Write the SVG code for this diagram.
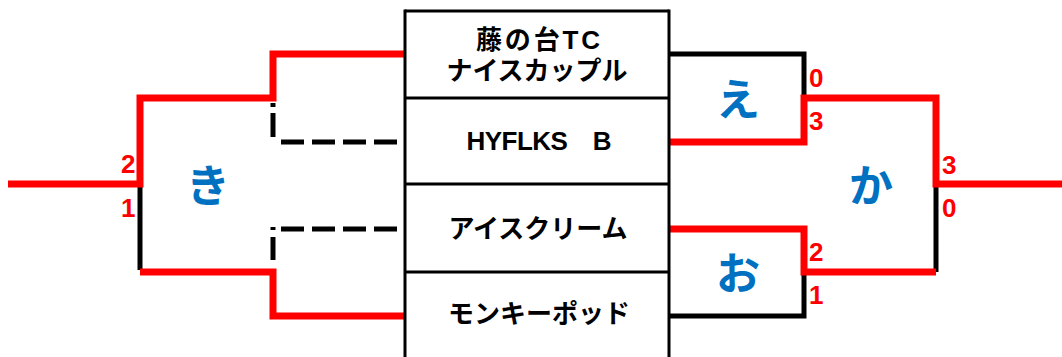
<svg xmlns="http://www.w3.org/2000/svg" width="1062" height="357" viewBox="0 0 1062 357">
<style>
.tbl{stroke:#000;stroke-width:3;fill:none}
.red{stroke:#ff0000;stroke-width:7;fill:none;stroke-linecap:butt;stroke-linejoin:miter}
.blk{stroke:#000;stroke-width:5;fill:none}
.dash{stroke:#000;stroke-width:5;fill:none}
.team{font-family:"Liberation Sans","Noto Sans CJK JP",sans-serif;font-weight:bold;font-size:26px;fill:#000;text-anchor:middle}
.match{font-family:"Noto Sans CJK JP",sans-serif;font-weight:bold;font-size:44px;fill:#0070C0;text-anchor:middle;dominant-baseline:central}
.score{font-family:"Liberation Sans",sans-serif;font-weight:bold;font-size:26px;fill:#ff0000}
</style>
<rect width="1062" height="357" fill="#fff"/>
<g id="connectors">
  <line class="blk" x1="140" y1="186" x2="140" y2="270"/>
  <line class="dash" x1="273" y1="103" x2="273" y2="107"/>
  <line class="dash" x1="273" y1="113" x2="273" y2="137"/>
  <line class="dash" x1="281" y1="142" x2="398" y2="142" stroke-dasharray="23 8"/>
  <line class="dash" x1="273" y1="227" x2="273" y2="230"/>
  <line class="dash" x1="273" y1="237" x2="273" y2="260"/>
  <line class="dash" x1="281" y1="229" x2="398" y2="229" stroke-dasharray="23 8"/>
  <polyline class="red" points="406,54 273,54 273,98 140,98 140,184 8,184"/>
  <polyline class="red" points="406,316 273,316 273,272 140,272"/>
  <polyline class="blk" points="669,54 804,54 804,98"/>
  <polyline class="blk" points="669,316 804,316 804,272"/>
  <line class="blk" x1="936" y1="184" x2="936" y2="272"/>
  <polyline class="red" points="670,142 804,142 804,98 936,98 936,184 1062,184"/>
  <polyline class="red" points="670,229 804,229 804,272 936,272"/>
</g>
<g id="table">
  <line class="tbl" x1="405" y1="11" x2="669" y2="11"/>
  <line class="tbl" x1="405" y1="9.5" x2="405" y2="357"/>
  <line class="tbl" x1="669" y1="9.5" x2="669" y2="357"/>
</g>
<g id="team-1">
  <line class="tbl" x1="405" y1="98" x2="669" y2="98"/>
  <text class="team" x="538" y="49" textLength="124" lengthAdjust="spacing">藤の台TC</text>
  <text class="team" x="537" y="80">ナイスカップル</text>
</g>
<g id="team-2">
  <line class="tbl" x1="405" y1="184" x2="669" y2="184"/>
  <text class="team" x="539" y="150" textLength="145" lengthAdjust="spacing">HYFLKS　B</text>
</g>
<g id="team-3">
  <line class="tbl" x1="405" y1="272" x2="669" y2="272"/>
  <text class="team" x="538" y="238">アイスクリーム</text>
</g>
<g id="team-4">
  <text class="team" x="539" y="323">モンキーポッド</text>
</g>
<g id="match-ki">
  <text class="match" x="208" y="183">き</text>
  <text class="score" x="121" y="173">2</text>
  <text class="score" x="121" y="217">1</text>
</g>
<g id="match-e">
  <text class="match" x="738" y="97">え</text>
  <text class="score" x="809" y="87">0</text>
  <text class="score" x="809" y="130">3</text>
</g>
<g id="match-o">
  <text class="match" x="738" y="271">お</text>
  <text class="score" x="809" y="261">2</text>
  <text class="score" x="809" y="304">1</text>
</g>
<g id="match-ka">
  <text class="match" x="871" y="183">か</text>
  <text class="score" x="942" y="174">3</text>
  <text class="score" x="942" y="217">0</text>
</g>
</svg>
